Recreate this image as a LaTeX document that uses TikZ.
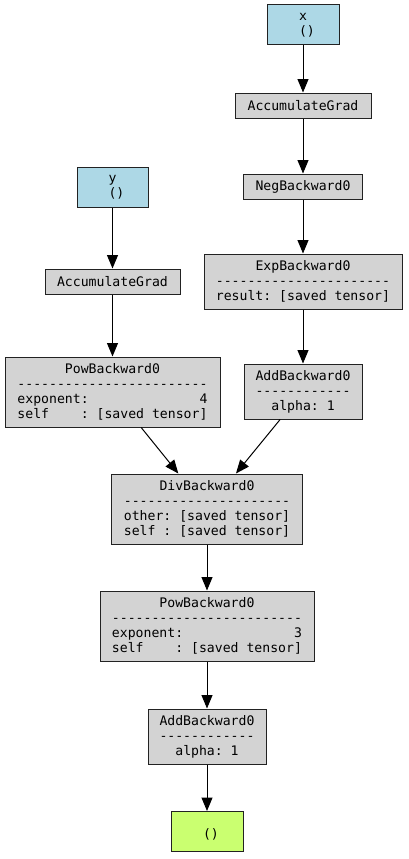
\documentclass[tikz,border=0pt]{standalone}
\usepackage{fontspec}
\newfontfamily\dvm{DejaVu Sans Mono}[WordSpace={1,0,0}]
\usetikzlibrary{arrows.meta}
\definecolor{gvblue}{HTML}{ADD8E6}
\definecolor{gvgray}{HTML}{D3D3D3}
\definecolor{gvgreen}{HTML}{CAFF70}
\definecolor{gvline}{HTML}{222222}
\ExplSyntaxOn
\cs_new:Npn \mydashes #1 { \prg_replicate:nn {#1} { -\kern0pt } }
\ExplSyntaxOff
\begin{document}
\begin{tikzpicture}[x=1pt,y=-1pt,
  box/.style={draw=gvline, line width=1pt, inner sep=0pt, align=center,
    font={\dvm\fontsize{13.15pt}{15pt}\selectfont}},
  fnbox/.style={box, fill=gvgray},
  leafbox/.style={box, fill=gvblue},
  outbox/.style={box, fill=gvgreen},
  edge/.style={line width=1pt, draw=black, -{Triangle[length=13.5pt,width=11pt]}}]
\useasboundingbox[fill=white] (0,0) rectangle (408,859);
% right column
\node[leafbox, minimum width=72pt, minimum height=40pt] (x) at (303,25) {x\\\mbox{~()}};
\node[fnbox, minimum width=136pt, minimum height=25pt] (accx) at (303,105.5) {AccumulateGrad};
\node[fnbox, minimum width=119pt, minimum height=25pt] (neg) at (303,186.5) {NegBackward0};
\node[fnbox, minimum width=198pt, minimum height=55pt] (exp) at (303,281.5) {ExpBackward0\\\mydashes{22}\\result:~[saved~tensor]};
\node[fnbox, minimum width=118pt, minimum height=55pt] (add1) at (303,391.5) {AddBackward0\\\mydashes{12}\\alpha:~1};
% left column
\node[leafbox, minimum width=71pt, minimum height=40pt] (y) at (112.5,187) {y\\\mbox{~()}};
\node[fnbox, minimum width=135pt, minimum height=25pt] (accy) at (112.5,281.5) {AccumulateGrad};
\node[fnbox, minimum width=215pt, minimum height=70pt] (pow4) at (112.5,392) {PowBackward0\\\mydashes{24}\\exponent:~~~~~~~~~~~~~~4\\self~~~~:~[saved~tensor]};
% bottom chain
\node[fnbox, minimum width=191pt, minimum height=70pt] (div) at (207,509) {DivBackward0\\\mydashes{21}\\other:~[saved~tensor]\\self~:~[saved~tensor]};
\node[fnbox, minimum width=214pt, minimum height=70pt] (pow3) at (207,626) {PowBackward0\\\mydashes{24}\\exponent:~~~~~~~~~~~~~~3\\self~~~~:~[saved~tensor]};
\node[fnbox, minimum width=118pt, minimum height=55pt] (add2) at (207,736.5) {AddBackward0\\\mydashes{12}\\alpha:~1};
\node[outbox, minimum width=72pt, minimum height=40pt] (out) at (207,831.5) {\mbox{}\\\mbox{~()}};
% edges
\draw[edge] (x) -- (accx);
\draw[edge] (accx) -- (neg);
\draw[edge] (neg) -- (exp);
\draw[edge] (exp) -- (add1);
\draw[edge] (y) -- (accy);
\draw[edge] (accy) -- (pow4);
\draw[edge] (pow4) -- (div);
\draw[edge] (add1) -- (div);
\draw[edge] (div) -- (pow3);
\draw[edge] (pow3) -- (add2);
\draw[edge] (add2) -- (out);
\end{tikzpicture}
\end{document}
